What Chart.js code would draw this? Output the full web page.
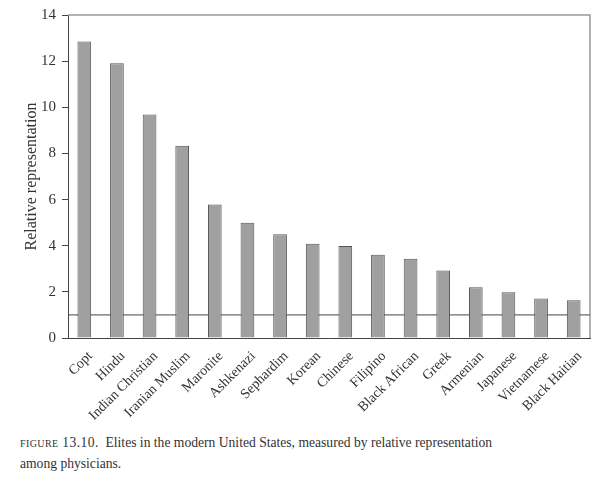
<!DOCTYPE html>
<html>
<head>
<meta charset="utf-8">
<script src="https://cdn.jsdelivr.net/npm/chart.js@4/dist/chart.umd.min.js"></script>
<style>
    body { margin: 0; background: #fff; }
    #wrap { position: relative; width: 600px; height: 478px; }
    #chart { position: absolute; left: 0; top: 0; }
    .caption {
        position: absolute; left: 20px; top: 432px; width: 560px;
        font-family: 'Liberation Serif', serif; font-size: 13.6px; line-height: 21px; color: #333;
    }
    .caption .fig { font-variant: small-caps; letter-spacing: 0.4px; }
</style>
</head>
<body>
<div id="wrap">
    <canvas id="chart" width="600" height="425"></canvas>
    <div class="caption"><span class="fig">figure 13.10.</span>&nbsp; Elites in the modern United States, measured by relative representation<br>among physicians.</div>
</div>
<script>
// الفئات والقيم
const groups = ['Copt', 'Hindu', 'Indian Christian', 'Iranian Muslim', 'Maronite', 'Ashkenazi', 'Sephardim', 'Korean',
    'Chinese', 'Filipino', 'Black African', 'Greek', 'Armenian', 'Japanese', 'Vietnamese', 'Black Haitian'];
const representation = [12.85, 11.91, 9.69, 8.33, 5.79, 5.0, 4.5, 4.09, 3.99, 3.61, 3.44, 2.93, 2.2, 1.98, 1.71, 1.64];
const yTicks = [0, 2, 4, 6, 8, 10, 12, 14];
const parityLine = 1;

const serif = "'Liberation Serif', serif";

// إطار الرسم وخط التمثيل المتساوي
const framePlugin = {
    id: 'frame',
    beforeDatasetsDraw(chart) {
        const { ctx, chartArea: a, scales } = chart;
        ctx.save();
        ctx.strokeStyle = '#999';
        ctx.lineWidth = 1.5;
        ctx.beginPath();
        ctx.moveTo(a.left, a.top);
        ctx.lineTo(a.right, a.top);
        ctx.lineTo(a.right, a.bottom);
        ctx.stroke();
        const y = scales.y.getPixelForValue(parityLine);
        ctx.strokeStyle = '#444';
        ctx.lineWidth = 1;
        ctx.beginPath();
        ctx.moveTo(a.left, y);
        ctx.lineTo(a.right, y);
        ctx.stroke();
        ctx.restore();
    }
};

new Chart(document.getElementById('chart'), {
    type: 'bar',
    data: {
        labels: groups,
        datasets: [{
            data: representation,
            backgroundColor: '#a0a0a0',
            borderColor: '#555',
            borderWidth: 1,
            categoryPercentage: 1,
            barPercentage: 0.42
        }]
    },
    options: {
        responsive: false,
        animation: false,
        layout: { padding: { left: 0, right: 10, top: 14, bottom: 0 } },
        plugins: { legend: { display: false }, tooltip: { enabled: false } },
        scales: {
            x: {
                afterFit: s => { s.height = 87; },
                grid: { display: false },
                border: { color: '#444', width: 1 },
                ticks: {
                    minRotation: 45, maxRotation: 45, autoSkip: false, padding: 2, labelOffset: 6,
                    color: '#333', font: { family: serif, size: 14 }
                }
            },
            y: {
                min: 0, max: 14,
                afterFit: s => { s.width = 68; },
                afterBuildTicks: s => { s.ticks = yTicks.map(v => ({ value: v })); },
                grid: { drawOnChartArea: false, drawTicks: true, tickLength: 6, color: '#444' },
                border: { color: '#444', width: 1 },
                ticks: { padding: 6, color: '#333', font: { family: serif, size: 15 } },
                title: {
                    display: true, text: 'Relative representation',
                    color: '#333', font: { family: serif, size: 16 }, padding: { top: 22, bottom: 0 }
                }
            }
        }
    },
    plugins: [framePlugin]
});
</script>
</body>
</html>
